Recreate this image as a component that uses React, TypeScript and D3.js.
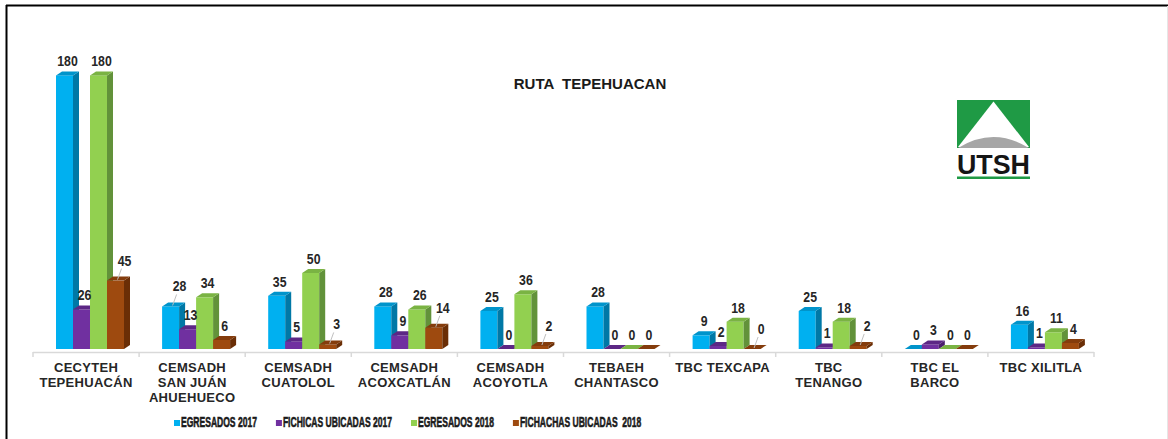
import React, { useLayoutEffect, useRef, useState } from "react";
import * as d3 from "d3";

// categories (multi-line labels)
const categories = [
  "CECYTEH|TEPEHUACÁN",
  "CEMSADH|SAN JUÁN|AHUEHUECO",
  "CEMSADH|CUATOLOL",
  "CEMSADH|ACOXCATLÁN",
  "CEMSADH|ACOYOTLA",
  "TEBAEH|CHANTASCO",
  "TBC TEXCAPA",
  "TBC|TENANGO",
  "TBC EL|BARCO",
  "TBC XILITLA",
];

const seriesNames = [
  "EGRESADOS 2017",
  "FICHICAS UBICADAS 2017",
  "EGRESADOS 2018",
  "FICHACHAS UBICADAS  2018",
];

const egresados2017 = [180, 28, 35, 28, 25, 28, 9, 25, 0, 16];
const fichas2017 = [26, 13, 5, 9, 0, 0, 2, 1, 3, 1];
const egresados2018 = [180, 34, 50, 26, 36, 0, 18, 18, 0, 11];
const fichas2018 = [45, 6, 3, 14, 2, 0, 0, 2, 0, 4];

// labels that Excel moved off the bar (drawn with a leader line): [category, series]
const movedLabels = [
  [0, 3],
  [1, 0],
  [2, 3],
  [3, 3],
  [4, 3],
  [6, 3],
  [7, 3],
];

const colors = [
  { front: "#00B0F0", side: "#0078A6", top: "#0094CB" },
  { front: "#7030A0", side: "#4A1F6B", top: "#5C2785" },
  { front: "#92D050", side: "#62923A", top: "#7AB343" },
  { front: "#9E4A0F", side: "#6A2E06", top: "#843C0C" },
];

const W = 1168;
const H = 439;
const DX = 6;
const DY = 4;
const LEGEND_SCALE = 0.57;
const LABEL_SCALE = 0.82;

const App: React.FC = () => {
  const allValues = [egresados2017, fichas2017, egresados2018, fichas2018];
  const legendRefs = useRef<(SVGTextElement | null)[]>([]);
  const [legendX, setLegendX] = useState<number[]>(seriesNames.map((_, i) => 174 + i * 115));

  useLayoutEffect(() => {
    let x = 174;
    const xs: number[] = [];
    legendRefs.current.forEach((el) => {
      xs.push(x);
      const w = el ? el.getComputedTextLength() * LEGEND_SCALE : 80;
      x += 8 + w + 18;
    });
    setLegendX(xs);
  }, []);

  const xScale = d3
    .scaleBand<number>()
    .domain(d3.range(categories.length))
    .range([33, 1094])
    .padding(0);

  const sScale = d3
    .scaleBand<number>()
    .domain(d3.range(seriesNames.length))
    .range([23, 23 + 68])
    .padding(0);

  const yScale = d3.scaleLinear().domain([0, 200]).range([349, 45]);
  const y0 = yScale(0);
  const bw = sScale.bandwidth();

  const isMoved = (c: number, s: number) =>
    movedLabels.some((m) => m[0] === c && m[1] === s);

  return (
    <svg
      width={W}
      height={H}
      style={{ position: "absolute", left: 0, top: 0, background: "#fff" }}
      fontFamily="'Liberation Sans', Arial, sans-serif"
    >
      <rect width={W} height={H} fill="#fff" />
      {/* frame */}
      <line x1={6.5} x2={6.5} y1={5} y2={H} stroke="#000" strokeWidth={2} />
      <line x1={6} x2={W} y1={5.5} y2={5.5} stroke="#000" strokeWidth={2} />
      <line x1={1167.5} x2={1167.5} y1={6} y2={H} stroke="#e6e6e6" strokeWidth={1} />

      {/* title */}
      <text
        x={590}
        y={89}
        textAnchor="middle"
        fontSize={15}
        fontWeight="bold"
        fill="#1a1a1a"
        style={{ whiteSpace: "pre" }}
      >
        {"RUTA  TEPEHUACAN"}
      </text>

      {/* logo */}
      <g>
        <rect x={957} y={100} width={73} height={48} fill="#1F9A45" />
        <path d="M993.5,101.5 L958,147 L1029,147 Z" fill="#fff" />
        <path d="M958,148 Q993.5,126 1029,148 Z" fill="#a6a6a6" />
        <text
          x={957}
          y={174}
          fontSize={28}
          fontWeight="bold"
          fill="#151515"
          textLength={73}
          lengthAdjust="spacingAndGlyphs"
        >
          UTSH
        </text>
        <rect x={957} y={176.5} width={73} height={2.5} fill="#1F9A45" />
      </g>

      {/* axis */}
      <line x1={33} x2={1094} y1={352.5} y2={352.5} stroke="#d9d9d9" strokeWidth={1.5} />
      {d3.range(categories.length + 1).map((i) => {
        const x = i < categories.length ? xScale(i)! : 1094;
        return (
          <line
            key={"t" + i}
            x1={x}
            x2={x}
            y1={352}
            y2={357}
            stroke="#d9d9d9"
            strokeWidth={1.5}
          />
        );
      })}

      {/* bars */}
      {categories.map((cat, c) =>
        allValues.map((vals, s) => {
          const v = vals[c];
          const x = xScale(c)! + sScale(s)!;
          const yt = yScale(v);
          const col = colors[s];
          return (
            <g key={`b${c}-${s}`}>
              <rect x={x} y={yt} width={bw} height={y0 - yt} fill={col.front} />
              <path
                d={`M${x + bw},${yt} L${x + bw + DX},${yt - DY} L${x + bw + DX},${y0 - DY} L${x + bw},${y0} Z`}
                fill={col.side}
              />
              <path
                d={`M${x},${yt} L${x + DX},${yt - DY} L${x + bw + DX},${yt - DY} L${x + bw},${yt} Z`}
                fill={col.top}
              />
            </g>
          );
        })
      )}

      {/* value labels */}
      {categories.map((cat, c) =>
        allValues.map((vals, s) => {
          const v = vals[c];
          const cx = xScale(c)! + sScale(s)! + bw / 2;
          const yt = yScale(v);
          const moved = isMoved(c, s);
          const lxp = moved ? cx + 9 : cx + 3;
          const lyp = moved ? yt - 15 : yt - 9;
          return (
            <g key={`l${c}-${s}`}>
              {moved && (
                <line
                  x1={cx + 2}
                  y1={yt - 1}
                  x2={lxp - 3}
                  y2={lyp + 3}
                  stroke="#bfbfbf"
                  strokeWidth={1}
                />
              )}
              <text
                transform={`translate(${lxp},${lyp}) scale(${LABEL_SCALE},1)`}
                textAnchor="middle"
                fontSize={15}
                fontWeight="bold"
                fill="#262626"
              >
                {v}
              </text>
            </g>
          );
        })
      )}

      {/* category labels */}
      {categories.map((cat, c) => (
        <text
          key={"c" + c}
          x={xScale(c)! + xScale.bandwidth() / 2}
          y={372}
          textAnchor="middle"
          fontSize={13}
          fontWeight="bold"
          fill="#262626"
          letterSpacing={0.3}
        >
          {cat.split("|").map((line, j) => (
            <tspan key={j} x={xScale(c)! + xScale.bandwidth() / 2} dy={j === 0 ? 0 : 15}>
              {line}
            </tspan>
          ))}
        </text>
      ))}

      {/* legend */}
      {seriesNames.map((name, i) => (
        <g key={"lg" + i}>
          <rect x={legendX[i]} y={420} width={6} height={6} fill={colors[i].front} />
          <text
            ref={(el) => {
              legendRefs.current[i] = el;
            }}
            transform={`translate(${legendX[i] + 7},427) scale(${LEGEND_SCALE},1)`}
            fontSize={15}
            fontWeight="bold"
            fill="#1a1a1a"
            stroke="#1a1a1a"
            strokeWidth={0.6}
            style={{ whiteSpace: "pre" }}
          >
            {name}
          </text>
        </g>
      ))}
    </svg>
  );
};

export default App;
